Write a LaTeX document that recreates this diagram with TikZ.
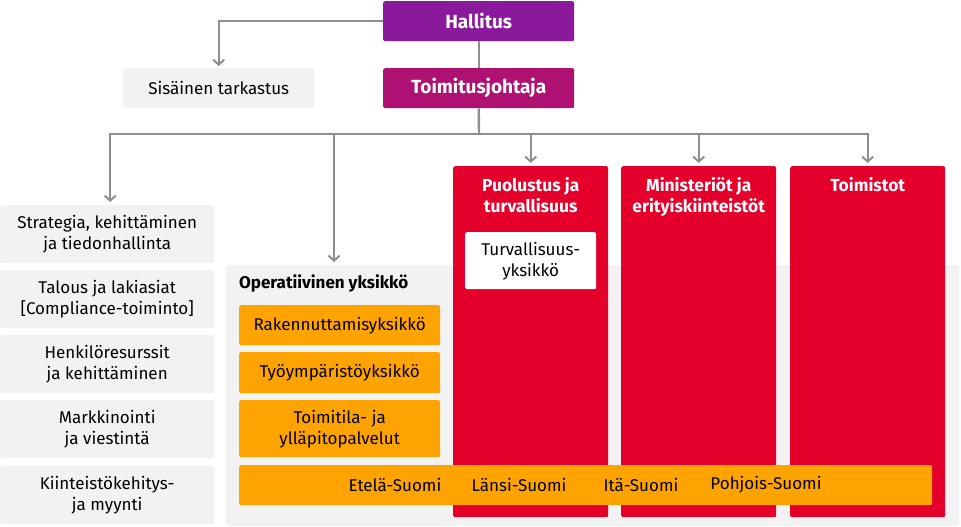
\documentclass[tikz,border=0pt]{standalone}
\usepackage{fontspec}
\setmainfont{Fira Sans}
\usetikzlibrary{arrows.meta,calc,positioning}

\definecolor{hallpurple}{HTML}{8A1A9B}
\definecolor{ceomagenta}{HTML}{AE1172}
\definecolor{boxgray}{HTML}{F2F2F2}
\definecolor{unitred}{HTML}{E4002B}
\definecolor{oporange}{HTML}{FFA300}
\definecolor{linegray}{HTML}{8F8F8F}

\begin{document}
\begin{tikzpicture}[x=1pt, y=-1pt, >=Stealth,
    arr/.style={draw=linegray, line width=2.4pt, -{Straight Barb[length=5pt,width=11pt,line width=2pt]}},
    conn/.style={draw=linegray, line width=2.4pt},
    topbox/.style={anchor=north west, minimum width=191pt, minimum height=40pt, rounded corners=2pt,
                   text=white, font=\fontsize{19}{22}\selectfont\bfseries, inner sep=0pt},
    staff/.style={anchor=north west, fill=boxgray, minimum width=214pt, minimum height=58pt, rounded corners=2pt,
                  align=center, font=\fontsize{17}{21}\selectfont, inner sep=0pt},
    redcol/.style={anchor=north west, fill=unitred, minimum width=155pt, minimum height=351pt, rounded corners=2pt, inner sep=0pt},
    redtitle/.style={anchor=north, text=white, align=center, font=\fontsize{17.4}{21}\selectfont\bfseries, inner sep=0pt},
    orbox/.style={anchor=north west, fill=oporange, minimum width=201pt, rounded corners=2pt,
                  align=center, font=\fontsize{17}{21}\selectfont, inner sep=0pt},
    region/.style={font=\fontsize{17}{20}\selectfont, inner sep=0pt}]
    \useasboundingbox (0,0) rectangle (961,527);

    % top of the chart
    \node[topbox, fill=hallpurple] (hall) at (383,1) {Hallitus};
    \node[topbox, fill=ceomagenta] (ceo) at (383,68) {Toimitusjohtaja};
    \node[topbox, fill=boxgray, text=black, font=\fontsize{17}{20}\selectfont] (audit) at (123,68) {Sisäinen tarkastus};

    % staff functions
    \node[staff] (strat) at (0,205) {Strategia, kehittäminen\\ja tiedonhallinta};
    \node[staff] (fin) at (0,270) {Talous ja lakiasiat\\{[}Compliance-toiminto{]}};
    \node[staff] (hr) at (0,335) {Henkilöresurssit\\ja kehittäminen};
    \node[staff] (mark) at (0,400) {Markkinointi\\ja viestintä};
    \node[staff] (dev) at (0,466) {Kiinteistökehitys-\\ja myynti};

    % operative unit background
    \fill[boxgray, rounded corners=3pt] (226,265) rectangle (959,526);
    \node[anchor=north west, inner sep=0pt, font=\fontsize{17}{20}\selectfont\bfseries] (optitle) at (239,275) {Operatiivinen yksikkö};

    % red business units
    \node[redcol] (def) at (453,166) {};
    \node[redcol] (min) at (621,166) {};
    \node[redcol] (off) at (790,166) {};
    \node[redtitle] (deft) at ($(def.north)+(0,11)$) {Puolustus ja\\turvallisuus};
    \node[redtitle] (mint) at ($(min.north)+(0,11)$) {Ministeriöt ja\\erityiskiinteistöt};
    \node[redtitle] (offt) at ($(off.north)+(0,11)$) {Toimistot};
    \node[anchor=north west, fill=white, minimum width=131pt, minimum height=57pt, rounded corners=2pt,
          align=center, inner sep=0pt, font=\fontsize{17}{21}\selectfont] (sec) at (465,232) {Turvallisuus-\\yksikkö};

    % orange operative boxes
    \node[orbox, minimum height=40pt] (build) at (239,305) {Rakennuttamisyksikkö};
    \node[orbox, minimum height=41pt] (work) at (239,352) {Työympäristöyksikkö};
    \node[orbox, minimum height=57pt] (prem) at (239,400) {Toimitila- ja\\ylläpitopalvelut};
    \node[anchor=north west, fill=oporange, minimum width=693pt, minimum height=40pt, rounded corners=2pt, inner sep=0pt] (bar) at (239,465) {};
    \node[region] (south) at (395,485) {Etelä-Suomi};
    \node[region] (west) at (519,485) {Länsi-Suomi};
    \node[region] (east) at (641,485) {Itä-Suomi};
    \node[region] (north) at (766,485) {Pohjois-Suomi};

    % connectors
    \coordinate (bus) at (479,134);
    \coordinate (opin) at (334,264);
    \draw[arr, shorten >=2pt] (hall.west) -| (audit.north);
    \draw[conn] (hall.south) -- (ceo.north);
    \draw[conn] (ceo.south) -- (bus);
    \draw[arr, shorten >=3pt] (bus) -| ([xshift=3pt]strat.north);
    \draw[arr, shorten >=2pt] (bus) -| (opin);
    \draw[arr, shorten >=3pt] (bus) -| (def.north);
    \draw[arr, shorten >=3pt] (bus) -| (min.north);
    \draw[arr, shorten >=3pt] (bus) -| (off.north);
\end{tikzpicture}
\end{document}
